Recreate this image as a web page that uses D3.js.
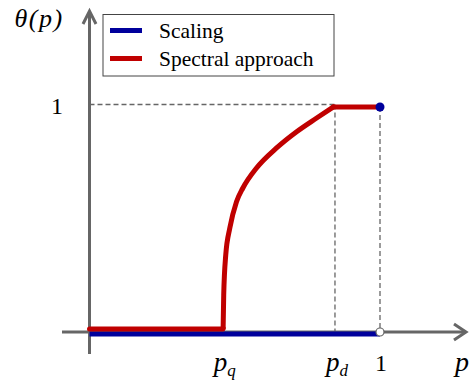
<!DOCTYPE html>
<html>
<head>
<meta charset="utf-8">
<script src="https://cdn.jsdelivr.net/npm/d3@7"></script>
<style>
  html, body { margin: 0; padding: 0; background: #fff; }
  svg { display: block; }
</style>
</head>
<body>
<div id="chart"></div>
<script>
// data (p on x, theta on y)
const pq = 0.459;
const pd = 0.845;
const spectralP = [0, 0.459, 0.460, 0.462, 0.469, 0.483, 0.506, 0.528, 0.575, 0.644, 0.713, 0.782, 0.839, 1];
const spectralTheta = [0.013, 0.013, 0.016, 0.164, 0.342, 0.462, 0.579, 0.64, 0.729, 0.818, 0.89, 0.951, 1, 1];
const scalingP = [0, 1];
const scalingTheta = [-0.009, -0.009];
const legendLabels = ['Scaling', 'Spectral approach'];
const xTicks = [{ v: pq, main: 'p', sub: 'q' }, { v: pd, main: 'p', sub: 'd' }, { v: 1, main: '1', sub: '' }];
const yTicks = [1];

const width = 474, height = 387;
const blue = '#00009c', red = '#c00000', axisGray = '#666666';
const serif = 'Liberation Serif';

const svg = d3.select('#chart').append('svg')
  .attr('width', width)
  .attr('height', height);

const x = d3.scaleLinear().domain([0, 1]).range([89.5, 380]);
const y = d3.scaleLinear().domain([0, 1]).range([332, 107]);

// dashed guides
const guide = svg.append('g')
  .attr('stroke', '#666')
  .attr('stroke-width', 1.3)
  .attr('stroke-dasharray', '5,3')
  .attr('fill', 'none');
guide.append('line')
  .attr('x1', x(0)).attr('x2', x(pd))
  .attr('y1', y(1) - 2.5).attr('y2', y(1) - 2.5);
guide.append('line')
  .attr('x1', x(pd)).attr('x2', x(pd))
  .attr('y1', y(1) - 2.5).attr('y2', y(0));
guide.append('line')
  .attr('x1', x(1)).attr('x2', x(1))
  .attr('y1', y(1)).attr('y2', y(0));

// axes with arrows
const axes = svg.append('g')
  .attr('stroke', axisGray)
  .attr('stroke-width', 3)
  .attr('fill', 'none');
axes.append('line')
  .attr('x1', 62).attr('x2', 466)
  .attr('y1', y(0)).attr('y2', y(0));
axes.append('path')
  .attr('d', `M${454},${y(0) - 8} L${466},${y(0)} L${454},${y(0) + 8}`);
axes.append('line')
  .attr('x1', x(0)).attr('x2', x(0))
  .attr('y1', 354).attr('y2', 11);
axes.append('path')
  .attr('d', `M${x(0) - 6.5},${24} L${x(0)},${11} L${x(0) + 6.5},${24}`);

const line = d3.line().x(d => x(d[0])).y(d => y(d[1]));

// scaling
svg.append('path')
  .datum(d3.zip(scalingP, scalingTheta))
  .attr('fill', 'none')
  .attr('stroke', blue)
  .attr('stroke-width', 5)
  .attr('d', line);

// spectral approach: rising part smooth, flat top straight
const spectral = d3.zip(spectralP, spectralTheta);
const kink = spectralP.indexOf(0.839);
const curved = d3.line().x(d => x(d[0])).y(d => y(d[1])).curve(d3.curveMonotoneX);
const redG = svg.append('g')
  .attr('fill', 'none')
  .attr('stroke', red)
  .attr('stroke-width', 5)
  .attr('stroke-linejoin', 'round')
  .attr('stroke-linecap', 'round');
redG.append('path').attr('d', line(spectral.slice(0, 3)));
redG.append('path').attr('d', curved(spectral.slice(2, kink + 1)));
redG.append('path').attr('d', line(spectral.slice(kink)));

// end points
svg.append('circle')
  .attr('cx', x(1)).attr('cy', y(1))
  .attr('r', 4.5)
  .attr('fill', blue);
svg.append('circle')
  .attr('cx', x(1)).attr('cy', y(0))
  .attr('r', 4)
  .attr('fill', '#fff')
  .attr('stroke', axisGray)
  .attr('stroke-width', 1.2);

// tick labels
svg.selectAll('.ytick')
  .data(yTicks)
  .join('text')
  .attr('font-family', serif)
  .attr('font-size', 24)
  .attr('x', 57)
  .attr('y', d => y(d) + 7)
  .attr('text-anchor', 'middle')
  .text(d => d);

const xt = svg.selectAll('.xtick')
  .data(xTicks)
  .join('text')
  .attr('font-family', serif)
  .attr('font-size', 24)
  .attr('x', d => x(d.v) + (d.sub ? 2 : 1))
  .attr('y', 371)
  .attr('text-anchor', 'middle');
xt.append('tspan')
  .attr('font-style', d => d.sub ? 'italic' : 'normal')
  .attr('font-size', d => d.sub ? 27 : 24)
  .text(d => d.main);
xt.append('tspan')
  .attr('dy', 5)
  .attr('font-size', 17)
  .attr('font-style', 'italic')
  .text(d => d.sub);

// axis titles
svg.append('text')
  .attr('font-family', serif)
  .attr('font-size', 28)
  .attr('font-style', 'italic')
  .attr('x', 462).attr('y', 371)
  .attr('text-anchor', 'middle')
  .text('p');
svg.append('text')
  .attr('font-family', serif)
  .attr('font-size', 26)
  .attr('font-style', 'italic')
  .attr('letter-spacing', 1.5)
  .attr('x', 39).attr('y', 27)
  .attr('text-anchor', 'middle')
  .text('θ(p)');

// legend
const legend = svg.append('g');
legend.append('rect')
  .attr('x', 103).attr('y', 14.5)
  .attr('width', 231).attr('height', 61.5)
  .attr('fill', '#fff')
  .attr('stroke', '#444')
  .attr('stroke-width', 1);
const items = legend.selectAll('g.item')
  .data(legendLabels)
  .join('g')
  .attr('transform', (d, i) => `translate(0,${30.5 + i * 28})`);
items.append('line')
  .attr('x1', 110).attr('x2', 142)
  .attr('stroke', (d, i) => i === 0 ? blue : red)
  .attr('stroke-width', 5);
items.append('text')
  .attr('font-family', serif)
  .attr('font-size', 21.5)
  .attr('x', 159).attr('y', 7)
  .text(d => d);
</script>
</body>
</html>
